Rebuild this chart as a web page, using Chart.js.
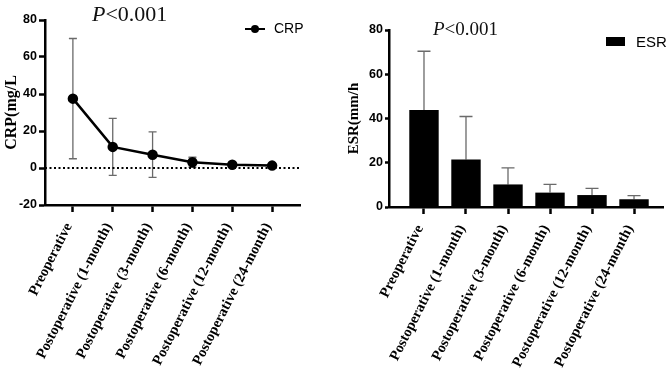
<!DOCTYPE html>
<html>
<head>
<meta charset="utf-8">
<script src="https://cdn.jsdelivr.net/npm/chart.js@4.4.0/dist/chart.umd.min.js"></script>
<style>
body { margin: 0; background: #fff; }
#wrap { position: relative; width: 669px; height: 382px; overflow: hidden; }
.box { position: absolute; top: 0; }
.p { position: absolute; font-family: "Liberation Serif", "Times New Roman", serif; line-height: 1; white-space: nowrap; color: #111; }
.lg { position: absolute; font-family: "Liberation Sans", Arial, sans-serif; line-height: 1; white-space: nowrap; color: #000; }
.mk { position: absolute; background: #000; }
</style>
</head>
<body>
<div id="wrap">
  <canvas id="crpChart" class="box" style="left:0" width="335" height="382"></canvas>
  <canvas id="esrChart" class="box" style="left:335px" width="334" height="382"></canvas>
  <div class="p" style="left:92px;top:3px;font-size:22px"><i>P</i>&lt;0.001</div>
  <div class="p" style="left:433px;top:19px;font-size:19px"><i>P</i>&lt;0.001</div>
  <!-- legends -->
  <div class="mk" style="left:245px;top:28px;width:20px;height:2px"></div>
  <div class="mk" style="left:251px;top:25px;width:8px;height:8px;border-radius:50%"></div>
  <div class="lg" id="crpLegend" style="left:274px;top:21px;font-size:14px"></div>
  <div class="mk" style="left:606px;top:37px;width:19px;height:9px"></div>
  <div class="lg" id="esrLegend" style="left:636px;top:34px;font-size:15px"></div>
</div>
<script>
// time points, shared by both panels
const labels = ['Preoperative', 'Postoperative (1-month)', 'Postoperative (3-month)',
  'Postoperative (6-month)', 'Postoperative (12-month)', 'Postoperative (24-month)'];

// CRP (mg/L): mean and SD
const crpMean = [37.5, 11.4, 7.2, 3.1, 1.8, 1.3];
const crpSd = [32.5, 15.4, 12.3, 2.7, 0.9, 0.7];
const crpTicks = [-20, 0, 20, 40, 60, 80];

// ESR (mm/h): mean and SD
const esrMean = [43.8, 21.5, 10.2, 6.5, 5.4, 3.5];
const esrSd = [26.6, 19.4, 7.5, 3.7, 3.0, 1.6];
const esrTicks = [0, 20, 40, 60, 80];

const serif = '"Liberation Serif", "Times New Roman", serif';
const sans = '"Liberation Sans", Arial, sans-serif';

// draws mean +/- SD whiskers under the marks
const errorBarPlugin = {
  id: 'errorBars',
  beforeDatasetsDraw(chart, args, opts) {
    const { ctx, scales: { x, y } } = chart;
    ctx.save();
    ctx.strokeStyle = opts.color;
    ctx.lineWidth = opts.width;
    opts.mean.forEach((m, i) => {
      const px = x.getPixelForValue(i);
      const top = y.getPixelForValue(m + opts.sd[i]);
      const bot = y.getPixelForValue(opts.upperOnly ? m : m - opts.sd[i]);
      const hw = opts.cap / 2;
      ctx.beginPath();
      ctx.moveTo(px, top); ctx.lineTo(px, bot);
      ctx.moveTo(px - hw, top); ctx.lineTo(px + hw, top);
      if (!opts.upperOnly) { ctx.moveTo(px - hw, bot); ctx.lineTo(px + hw, bot); }
      ctx.stroke();
    });
    ctx.restore();
  }
};

// dotted reference line at y = 0
const zeroLinePlugin = {
  id: 'zeroLine',
  beforeDatasetsDraw(chart, args, opts) {
    if (!opts.show) return;
    const { ctx, chartArea, scales: { y } } = chart;
    const py = y.getPixelForValue(0);
    ctx.save();
    ctx.strokeStyle = '#000';
    ctx.lineWidth = 2;
    ctx.setLineDash([2, 2.5]);
    ctx.beginPath();
    ctx.moveTo(chartArea.left, py);
    ctx.lineTo(chartArea.right, py);
    ctx.stroke();
    ctx.restore();
  }
};

function xAxis(min, max, h) {
  return {
    type: 'linear', min: min, max: max, offset: false,
    afterBuildTicks: s => { s.ticks = labels.map((_, i) => ({ value: i })); },
    afterFit: s => { s.height = h; },
    ticks: {
      autoSkip: false, minRotation: 63, maxRotation: 63, padding: 8, labelOffset: -4,
      callback: (v, i) => labels[i],
      color: '#000', font: { family: serif, size: 14.5, weight: 'bold' }
    },
    grid: { offset: false, drawOnChartArea: false, tickLength: 7, tickWidth: 2.5, tickColor: '#000' },
    border: { color: '#000', width: 2.5 }
  };
}

function yAxis(min, max, ticks, w, title, titleSize, titlePad, tickLen) {
  return {
    min: min, max: max,
    afterBuildTicks: s => { s.ticks = ticks.map(v => ({ value: v })); },
    afterFit: s => { s.width = w; },
    ticks: { padding: 2, color: '#000', font: { family: sans, size: 12.5, weight: 'bold' } },
    title: { display: true, text: title, color: '#000', padding: { top: titlePad, bottom: 0 },
      font: { family: serif, size: titleSize, weight: 'bold' } },
    grid: { drawOnChartArea: false, tickLength: tickLen, tickWidth: 2.5, tickColor: '#000' },
    border: { color: '#000', width: 2.5 }
  };
}

const crpData = {
  datasets: [{
    label: 'CRP',
    data: crpMean.map((v, i) => ({ x: i, y: v })),
    borderColor: '#000', backgroundColor: '#000',
    borderWidth: 2.5, pointRadius: 4, pointHoverRadius: 4
  }]
};
const esrData = {
  datasets: [{
    label: 'ESR',
    data: esrMean.map((v, i) => ({ x: i, y: v })),
    backgroundColor: '#000', borderWidth: 0,
    barPercentage: 0.7, categoryPercentage: 1
  }]
};
document.getElementById('crpLegend').textContent = crpData.datasets[0].label;
document.getElementById('esrLegend').textContent = esrData.datasets[0].label;

new Chart(document.getElementById('crpChart'), {
  type: 'line',
  data: crpData,
  options: {
    responsive: false, animation: false,
    layout: { padding: { top: 20, right: 35, left: 0, bottom: 0 } },
    plugins: {
      legend: { display: false },
      tooltip: { enabled: false },
      errorBars: { mean: crpMean, sd: crpSd, color: '#6a6a6a', width: 1.3, cap: 8, upperOnly: false },
      zeroLine: { show: true }
    },
    scales: {
      x: xAxis(-0.7, 5.7, 177),
      y: yAxis(-20, 80, crpTicks, 45, 'CRP(mg/L', 16, 2, 6)
    }
  },
  plugins: [errorBarPlugin, zeroLinePlugin]
});

new Chart(document.getElementById('esrChart'), {
  type: 'bar',
  data: esrData,
  options: {
    responsive: false, animation: false,
    layout: { padding: { top: 30, right: 6, left: 0, bottom: 0 } },
    plugins: {
      legend: { display: false },
      tooltip: { enabled: false },
      errorBars: { mean: esrMean, sd: esrSd, color: '#6a6a6a', width: 1.3, cap: 13, upperOnly: true },
      zeroLine: { show: false }
    },
    scales: {
      x: xAxis(-0.833, 5.69, 175),
      y: yAxis(0, 80, esrTicks, 54, 'ESR(mm/h', 15, 10, 4)
    }
  },
  plugins: [errorBarPlugin, zeroLinePlugin]
});
</script>
</body>
</html>
